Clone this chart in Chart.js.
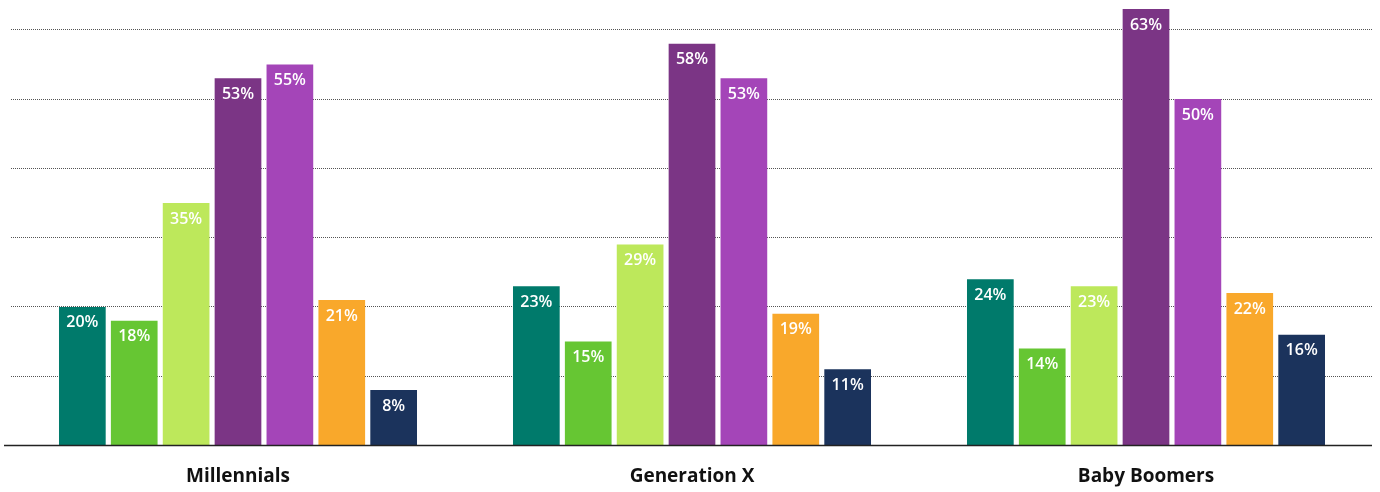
<!DOCTYPE html>
<html>
<head>
<meta charset="utf-8">
<script src="https://cdn.jsdelivr.net/npm/chart.js@4/dist/chart.umd.min.js"></script>
<style>
  html, body { margin: 0; padding: 0; background: #ffffff; }
  #wrap { width: 1380px; height: 492px; position: relative; }
</style>
</head>
<body>
<div id="wrap"><canvas id="chart" width="1380" height="492"></canvas></div>
<script>
// Generations on the x axis
const generations = ['Millennials', 'Generation X', 'Baby Boomers'];

// Share of respondents (%) per series, one value per generation
const series1 = [20, 23, 24];
const series2 = [18, 15, 14];
const series3 = [35, 29, 23];
const series4 = [53, 58, 63];
const series5 = [55, 53, 50];
const series6 = [21, 19, 22];
const series7 = [8, 11, 16];

const seriesValues = [series1, series2, series3, series4, series5, series6, series7];
const seriesColors = ['#007a6b', '#66c633', '#bde85b', '#7b3585', '#a445b8', '#f9a82b', '#1b335c'];

// Value axis: gridlines every 10 points
const yMax = 63;
const yStep = 10;

// Writes each bar's value just inside its top edge
const barValueLabels = {
  id: 'barValueLabels',
  afterDatasetsDraw(chart) {
    const ctx = chart.ctx;
    ctx.save();
    ctx.fillStyle = '#ffffff';
    ctx.font = '600 16px "Open Sans", "Lato", sans-serif';
    ctx.textAlign = 'center';
    ctx.textBaseline = 'middle';
    chart.data.datasets.forEach((ds, di) => {
      const meta = chart.getDatasetMeta(di);
      meta.data.forEach((bar, i) => {
        ctx.fillText(ds.data[i] + '%', bar.x, bar.y + 16);
      });
    });
    ctx.restore();
  }
};

// Dark baseline under the bars, running a little past the plot's left edge
const baseline = {
  id: 'baseline',
  afterDatasetsDraw(chart) {
    const ctx = chart.ctx;
    const y = chart.scales.y.getPixelForValue(0);
    ctx.save();
    ctx.strokeStyle = '#222222';
    ctx.lineWidth = 1.6;
    ctx.beginPath();
    ctx.moveTo(4, y);
    ctx.lineTo(chart.chartArea.right - 1, y);
    ctx.stroke();
    ctx.restore();
  }
};

new Chart(document.getElementById('chart'), {
  type: 'bar',
  data: {
    labels: generations,
    datasets: seriesValues.map((vals, i) => ({
      data: vals,
      backgroundColor: seriesColors[i],
      borderWidth: 0,
      categoryPercentage: 0.8,
      barPercentage: 0.9
    }))
  },
  options: {
    responsive: false,
    animation: false,
    devicePixelRatio: 1,
    layout: { padding: { left: 11, right: 7, top: 9, bottom: 5.5 } },
    plugins: {
      legend: { display: false },
      tooltip: { enabled: false }
    },
    scales: {
      x: {
        grid: { display: false, drawTicks: false },
        border: { display: false },
        ticks: {
          color: '#111111',
          padding: 20,
          font: { family: '"Open Sans", "Lato", sans-serif', size: 19, weight: 'bold' }
        },
        afterFit(scale) { scale.height = 41; }
      },
      y: {
        min: 0,
        max: yMax,
        ticks: { display: false, stepSize: yStep },
        border: { display: false, dash: [1, 1] },
        grid: {
          drawTicks: false,
          lineWidth: 1,
          color: (c) => (c.tick && c.tick.value > 0 && c.tick.value % yStep === 0) ? '#555555' : 'rgba(0,0,0,0)'
        }
      }
    }
  },
  plugins: [barValueLabels, baseline]
});
</script>
</body>
</html>
